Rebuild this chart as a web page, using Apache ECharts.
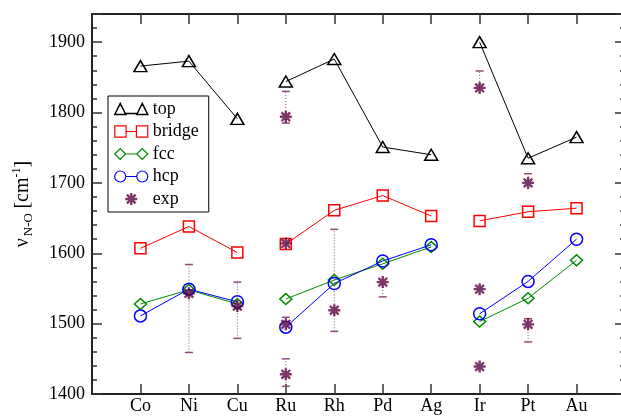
<!DOCTYPE html>
<html>
<head>
<meta charset="utf-8">
<script src="https://cdn.jsdelivr.net/npm/echarts@6/dist/echarts.min.js"></script>
<style>
  html, body { margin: 0; padding: 0; background: #fff; }
  #container { width: 621px; height: 417px; }
</style>
</head>
<body>
<div id="container"></div>
<script>
var metals = ['Co', 'Ni', 'Cu', 'Ru', 'Rh', 'Pd', 'Ag', 'Ir', 'Pt', 'Au'];
var breaksAfter = [2, 6]; // 3d | 4d | 5d

var topVals    = [1866, 1873, 1791, 1844, 1876, 1751, 1740, 1900, 1735, 1765];
var bridgeVals = [1607, 1638, 1601, 1613, 1661, 1682, 1653, 1646, 1659, 1664];
var fccVals    = [1528, 1548, 1528, 1535, 1562, 1585, 1609, 1503, 1536, 1590];
var hcpVals    = [1511, 1549, 1531, 1495, 1557, 1589, 1612, 1514, 1560, 1620];

// experimental points (x = metal index, 1-based) with error bar ends (null = none)
var expX  = [2, 3, 4, 4, 4, 4, 5, 6, 8, 8, 8, 9, 9];
var expY  = [1543, 1525, 1794, 1614, 1499, 1428, 1519, 1559, 1835, 1549, 1439, 1700, 1499];
var expLo = [1459, 1479, 1785, null, null, 1411, 1489, 1538, null, null, null, null, 1474];
var expHi = [1584, 1559, 1830, null, 1509, 1450, 1634, null, 1859, null, null, 1713, 1507];

var yTicks = [1400, 1500, 1600, 1700, 1800, 1900];

var FONT = '"Liberation Serif", "DejaVu Serif", serif';
var MAROON = '#5e0642';
var STAR = 'path://M8 0H12V20H8Z M0 8H20V12H0Z M4.2 1.4L18.6 15.8L15.8 18.6L1.4 4.2Z M18.6 4.2L4.2 18.6L1.4 15.8L15.8 1.4Z';

function toLine(vals) {
    var out = [];
    vals.forEach(function (v, i) {
        out.push([i + 1, v]);
        if (breaksAfter.indexOf(i) >= 0) out.push([i + 1.5, '-']);
    });
    return out;
}

var expData = expX.map(function (x, i) { return [x, expY[i]]; });
var errData = [];
expX.forEach(function (x, i) {
    if (expLo[i] == null && expHi[i] == null) return;
    errData.push([x, expY[i],
        expLo[i] == null ? expY[i] : expLo[i],
        expHi[i] == null ? expY[i] : expHi[i],
        expLo[i] == null ? 0 : 1,
        expHi[i] == null ? 0 : 1]);
});

function xAx(pos, labels) {
    return {
        type: 'value', position: pos, min: 0, max: 11, interval: 1,
        axisLine: { onZero: false, lineStyle: { color: '#222', width: 2 } },
        axisTick: { inside: true, length: 10, lineStyle: { color: '#333', width: 1.5 } },
        axisLabel: {
            show: labels, margin: 3, color: '#000', fontFamily: FONT, fontSize: 18,
            formatter: function (v) { return metals[v - 1] || ''; }
        },
        splitLine: { show: false }
    };
}

function yAx(pos, interval, len, major) {
    return {
        type: 'value', position: pos, min: 1400, max: 1940, interval: interval,
        axisLine: { show: major, onZero: false, lineStyle: { color: '#222', width: 2 } },
        axisTick: { inside: true, length: len, lineStyle: { color: '#333', width: 1.5 } },
        axisLabel: {
            show: major && pos === 'left', margin: 7, color: '#000', fontFamily: FONT, fontSize: 18,
            formatter: function (v) { return yTicks.indexOf(v) >= 0 ? String(v) : ''; }
        },
        splitLine: { show: false }
    };
}

var yMain = yAx('left', 100, 10, true);
yMain.name = '{n|ν}{s|N-O} {n|[cm}{p|-1}{n|]}';
yMain.nameLocation = 'middle';
yMain.nameRotate = 90;
yMain.nameGap = 57;
yMain.nameTextStyle = {
    color: '#000', fontFamily: FONT, fontSize: 18,
    rich: {
        n: { fontFamily: FONT, fontSize: 20, lineHeight: 24, verticalAlign: 'middle', color: '#000' },
        s: { fontFamily: FONT, fontSize: 13, lineHeight: 12, verticalAlign: 'bottom', color: '#000', padding: [0, 0, 0, 2] },
        p: { fontFamily: FONT, fontSize: 12, lineHeight: 12, verticalAlign: 'top', color: '#000' }
    }
};

function lineSeries(name, vals, color, symbol, size) {
    return {
        name: name, type: 'line', data: toLine(vals), connectNulls: false,
        symbol: symbol, symbolSize: size,
        lineStyle: { color: color, width: 1 },
        itemStyle: { color: 'rgba(0,0,0,0)', borderColor: color, borderWidth: 1.5 },
        emphasis: { disabled: true },
        z: 3
    };
}

var myChart = echarts.init(document.getElementById('container'));
var option = {
    animation: false,
    backgroundColor: '#fff',
    grid: { left: 92, top: 14, width: 533, height: 380, outerBoundsMode: 'none', containLabel: false },
    xAxis: [xAx('bottom', true), xAx('top', false)],
    yAxis: [yMain, yAx('left', 20, 5, false), yAx('right', 100, 10, true), yAx('right', 20, 5, false)],
    legend: {
        orient: 'vertical', left: 108, top: 96,
        backgroundColor: '#fff', borderColor: '#000', borderWidth: 1, borderRadius: 0,
        padding: [3, 10, 3, 6], itemGap: 2.5, itemWidth: 33, itemHeight: 12, itemTextGap: 8,
        textStyle: { fontFamily: FONT, fontSize: 18, color: '#000', lineHeight: 20 },
        data: [
            { name: 'top', icon: 'path://M0 12L5.5 1L11 12Z M11 11H22 M22 12L27.5 1L33 12Z',
              itemStyle: { color: '#fff', borderColor: '#000', borderWidth: 1.5 } },
            { name: 'bridge', icon: 'path://M0.5 0.5H11.5V11.5H0.5Z M11.5 6H21.5 M21.5 0.5H32.5V11.5H21.5Z',
              itemStyle: { color: '#fff', borderColor: '#f00', borderWidth: 1.2 } },
            { name: 'fcc', icon: 'path://M0 6L5.5 0.5L11 6L5.5 11.5Z M11 6H22 M22 6L27.5 0.5L33 6L27.5 11.5Z',
              itemStyle: { color: '#fff', borderColor: '#008b00', borderWidth: 1.2 } },
            { name: 'hcp', icon: 'path://M0 6A5.5 5.5 0 1 1 11 6A5.5 5.5 0 1 1 0 6Z M11 6H22 M22 6A5.5 5.5 0 1 1 33 6A5.5 5.5 0 1 1 22 6Z',
              itemStyle: { color: '#fff', borderColor: '#00f', borderWidth: 1.2 } },
            { name: 'exp' }
        ]
    },
    series: [
        lineSeries('top', topVals, '#000', 'triangle', [13, 11]),
        lineSeries('bridge', bridgeVals, '#f00', 'rect', 11),
        lineSeries('fcc', fccVals, '#008b00', 'diamond', [12, 11]),
        lineSeries('hcp', hcpVals, '#00f', 'circle', 12),
        {
            name: 'exp', type: 'scatter', data: expData,
            symbol: STAR, symbolSize: 12,
            itemStyle: { color: MAROON },
            emphasis: { disabled: true },
            z: 5
        },
        {
            name: 'err', type: 'custom', data: errData,
            encode: { x: 0, y: 1 },
            z: 4,
            renderItem: function (params, api) {
                var x = api.value(0);
                var lo = api.coord([x, api.value(2)]);
                var hi = api.coord([x, api.value(3)]);
                var col = '#8d4b7e';
                var kids = [{
                    type: 'line',
                    shape: { x1: lo[0], y1: lo[1], x2: hi[0], y2: hi[1] },
                    style: { stroke: col, lineWidth: 1, lineDash: [1, 2] }
                }];
                if (api.value(4)) kids.push({ type: 'line',
                    shape: { x1: lo[0] - 4, y1: lo[1], x2: lo[0] + 4, y2: lo[1] },
                    style: { stroke: col, lineWidth: 1.5 } });
                if (api.value(5)) kids.push({ type: 'line',
                    shape: { x1: hi[0] - 4, y1: hi[1], x2: hi[0] + 4, y2: hi[1] },
                    style: { stroke: col, lineWidth: 1.5 } });
                return { type: 'group', children: kids };
            }
        }
    ]
};
myChart.setOption(option, true);
</script>
</body>
</html>
